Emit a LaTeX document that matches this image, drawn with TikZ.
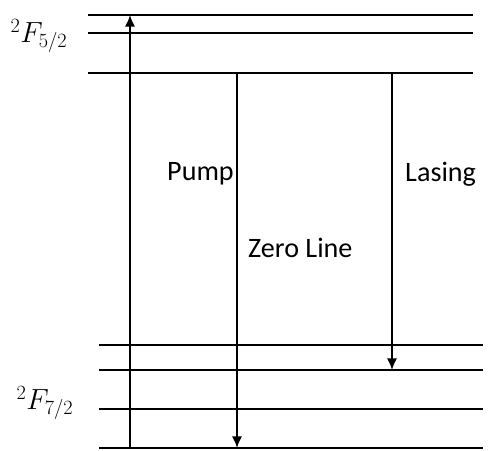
\documentclass[tikz,border=0pt]{standalone}
\usepackage{fontspec}
\setsansfont{Carlito}
\usetikzlibrary{arrows.meta}

\begin{document}
\begin{tikzpicture}[
x=0.03cm, y=-0.03cm,
level/.style={line width=1.9pt},
trans/.style={line width=1.9pt, -{Latex[length=10pt,width=9pt]}},
lbl/.style={font=\sffamily\fontsize{24}{29}\selectfont, anchor=west, inner sep=0pt},
term/.style={font=\fontsize{24}{28}\selectfont, inner sep=0pt}
]
\useasboundingbox (0,0) rectangle (490,451);

% upper manifold
\draw[level] (88,15) -- (473,15);
\draw[level] (88,33) -- (473,33);
\draw[level] (88,73) -- (473,73);

% lower manifold
\draw[level] (99,345) -- (483,345);
\draw[level] (99,370) -- (483,370);
\draw[level] (99,409) -- (483,409);
\draw[level] (99,448) -- (483,448);

\node[term] (F52) at (39,36) {$^2F_{5/2}$};
\node[term] (F72) at (45,403) {$^2F_{7/2}$};

\coordinate (pumpA) at (130,448);
\coordinate (pumpB) at (130,15);
\coordinate (zeroA) at (237,73);
\coordinate (zeroB) at (237,448);
\coordinate (laseA) at (392,73);
\coordinate (laseB) at (392,370);

\draw[trans] (pumpA) -- (pumpB);
\draw[trans] (zeroA) -- (zeroB);
\draw[trans] (laseA) -- (laseB);

\node[lbl] (pump) at (167,174) {Pump};
\node[lbl] (zero) at (248,248) {Zero Line};
\node[lbl] (lase) at (405,174) {Lasing};

\end{tikzpicture}
\end{document}
